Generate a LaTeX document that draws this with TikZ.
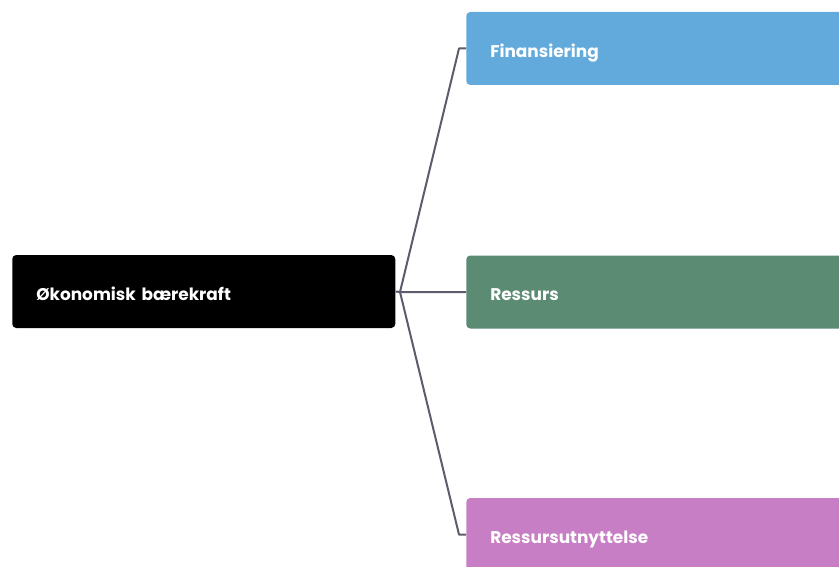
\documentclass[tikz,border=0pt]{standalone}
\usepackage{fontspec}
\setmainfont{Poppins}
\usepackage{tikz}

\definecolor{finblue}{HTML}{62AADC}
\definecolor{resgreen}{HTML}{5B8C73}
\definecolor{brukpink}{HTML}{C87EC4}
\definecolor{linegray}{HTML}{5C5C6C}

\begin{document}
\begin{tikzpicture}[x=0.75pt,y=-0.75pt,
  box/.style={rounded corners=3pt,text=white,font=\bfseries\fontsize{12.7}{15}\selectfont,
    anchor=west,minimum height=54.75pt,inner xsep=18pt,align=left,
    text height=14pt,text depth=1pt},
  link/.style={draw=linegray,line width=1.5pt,line join=round}]
\useasboundingbox (0,0) rectangle (839,567);
\clip (0,0) rectangle (839,567);
\fill[white] (0,0) rectangle (839,567);

\node[box,fill=black,text width=251.25pt] (oko) at (12,291.5) {Økonomisk bærekraft};

\node[box,fill=finblue,text width=289.5pt] (fin) at (466,48.5) {Finansiering};
\node[box,fill=resgreen,text width=289.5pt] (res) at (466,292) {Ressurs};
\node[box,fill=brukpink,text width=289.5pt] (bruk) at (466,534.5) {Ressursutnyttelse};

\coordinate (hub) at (400,292);
\coordinate (finbend) at (459,48.5);
\coordinate (brukbend) at (459,534.5);

\draw[link] (oko.east) -- (hub) -- (res.west);
\draw[link] (hub) -- (finbend) -- (fin.west);
\draw[link] (hub) -- (brukbend) -- (bruk.west);
\end{tikzpicture}
\end{document}
